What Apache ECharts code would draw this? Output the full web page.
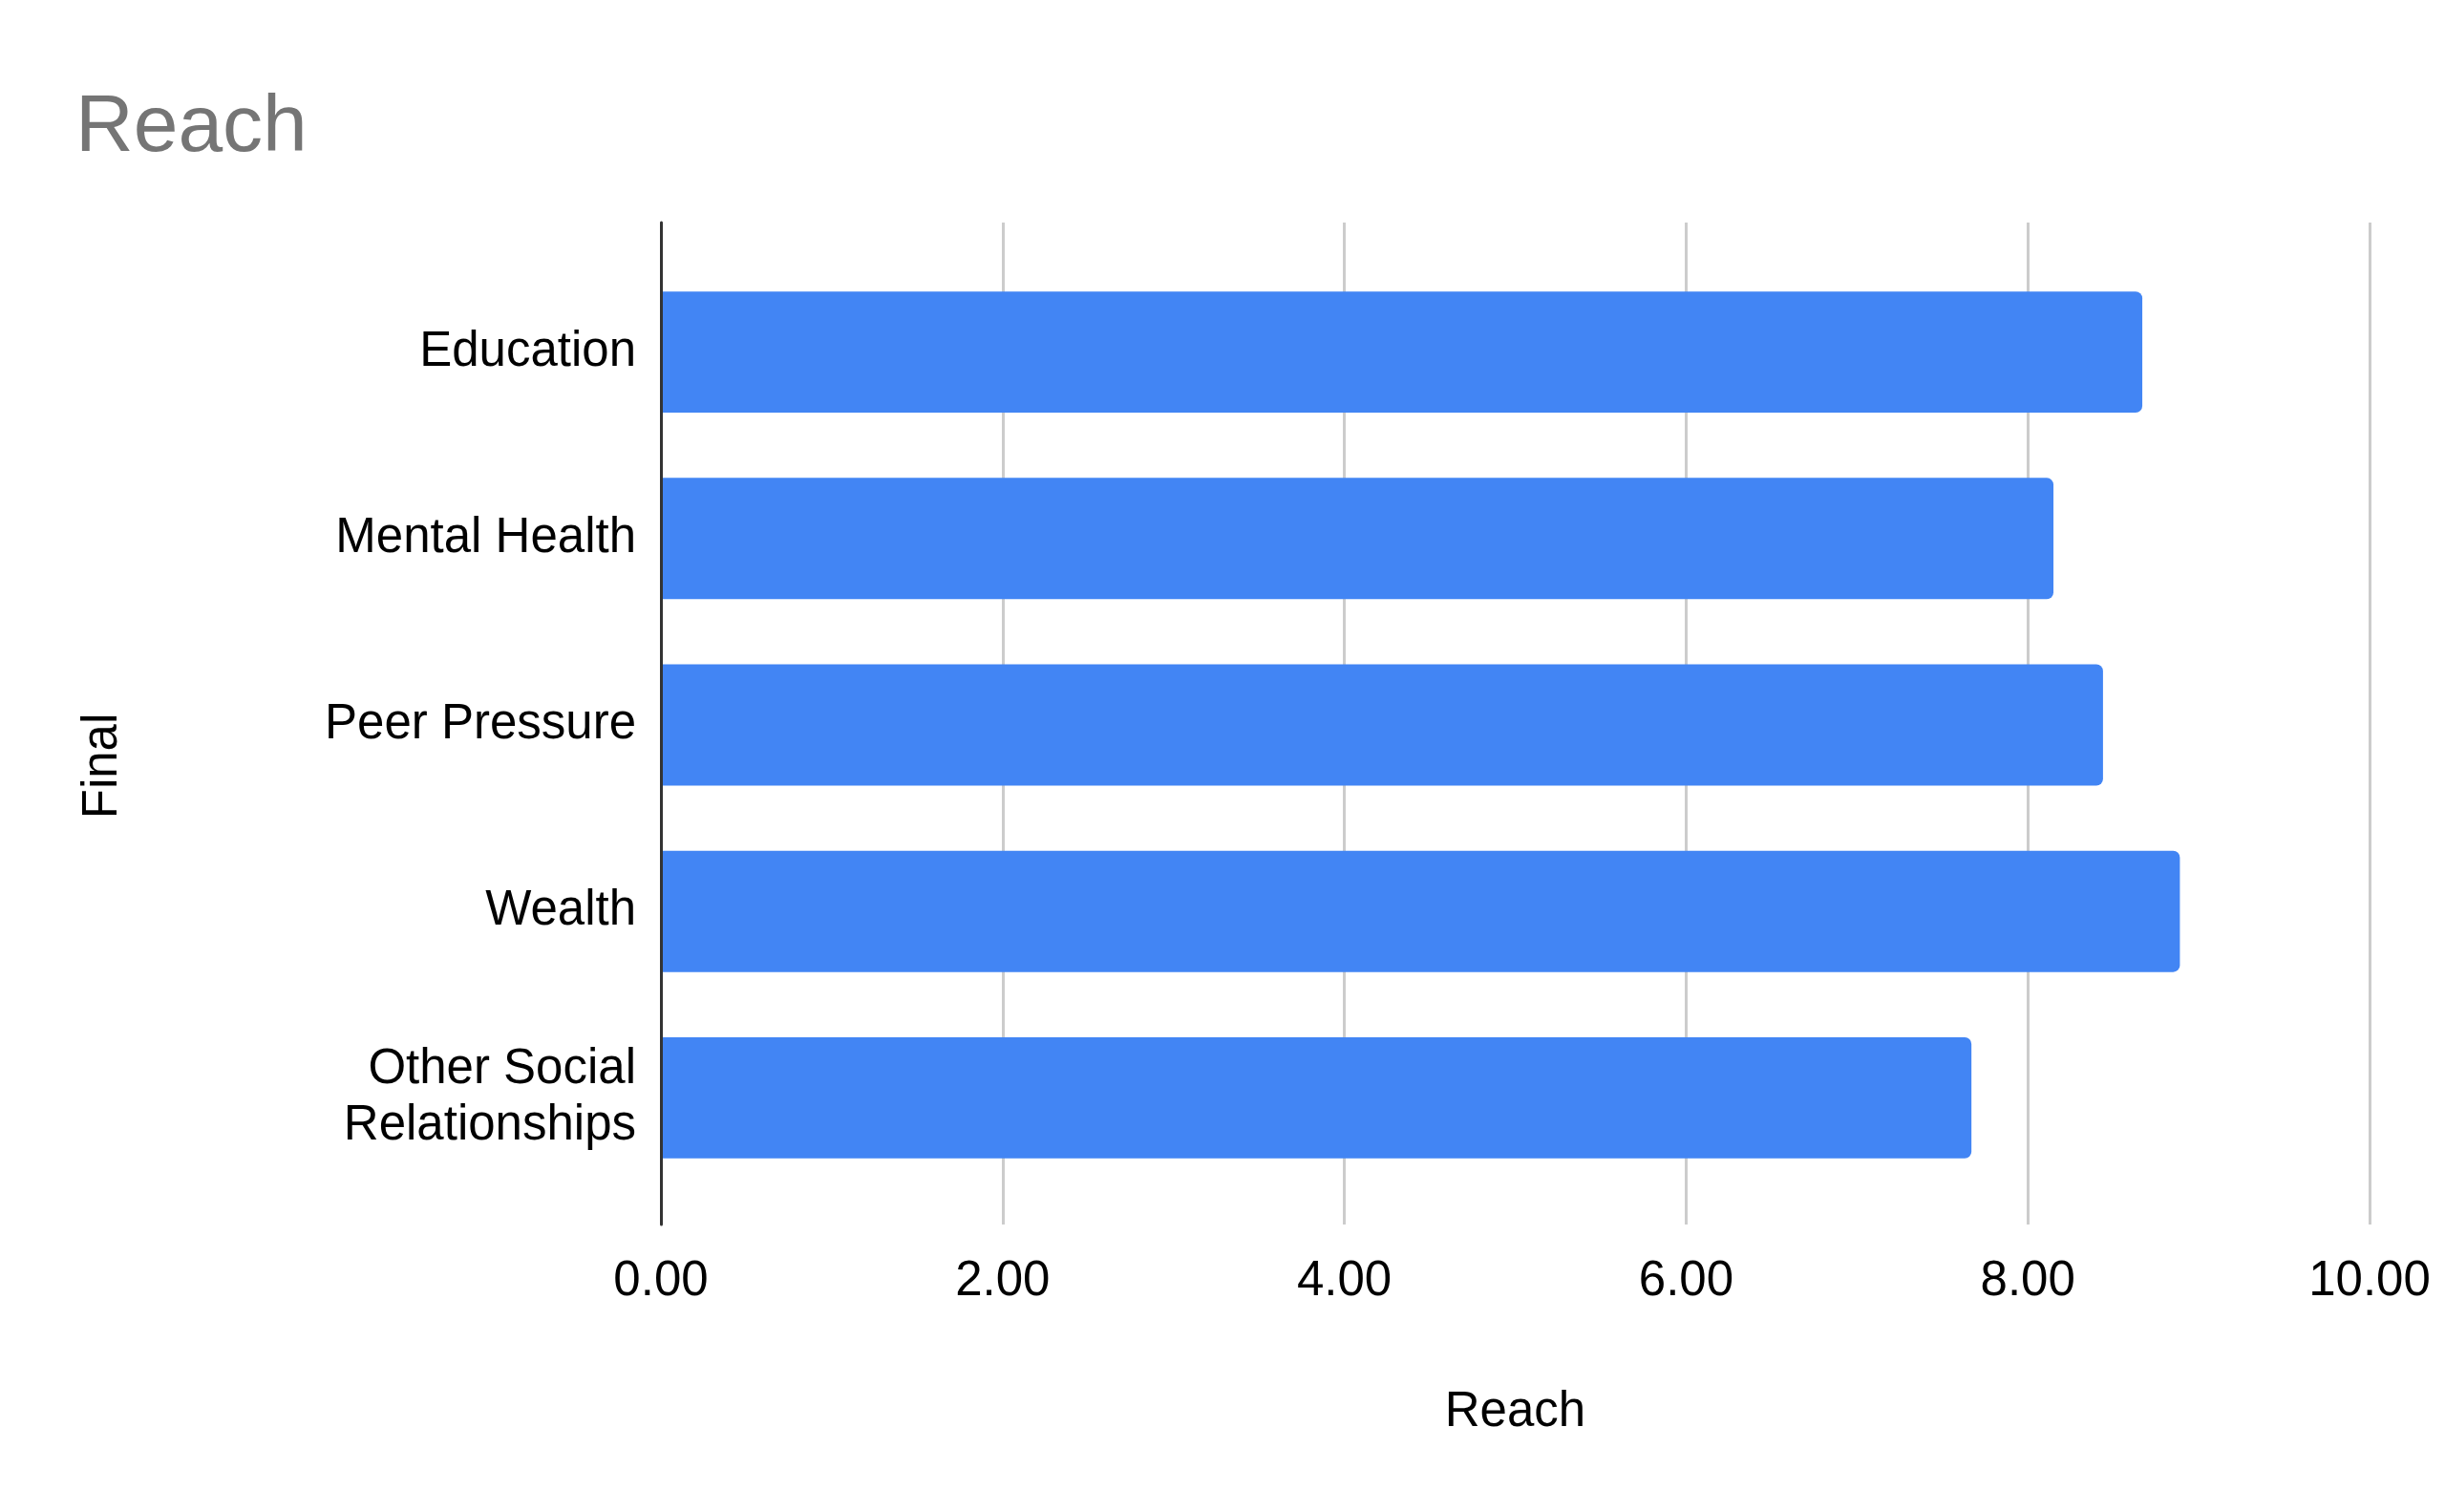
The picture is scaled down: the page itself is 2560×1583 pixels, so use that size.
<!DOCTYPE html>
<html>
<head>
<meta charset="utf-8">
<script src="https://cdn.jsdelivr.net/npm/echarts@6/dist/echarts.min.js"></script>
<style>
  html, body { margin: 0; padding: 0; background: #fff; }
  #chart-container { width: 2560px; height: 1583px; }
</style>
</head>
<body>
<div id="chart-container"></div>
<script>
// data
const categories = ['Education', 'Mental Health', 'Peer Pressure', 'Wealth', 'Other Social\nRelationships'];
const reachValues = [8.67, 8.15, 8.44, 8.89, 7.67];
const xMin = 0;
const xMax = 10;
const xStep = 2;

var dom = document.getElementById('chart-container');
var myChart = echarts.init(dom);
var option;

const font = 'Liberation Sans, Arial, sans-serif';

option = {
    backgroundColor: '#fff',
    animation: false,
    textStyle: { fontFamily: font },
    title: {
        text: 'Reach',
        left: 74,
        top: 88,
        textStyle: { fontFamily: font, fontSize: 84, fontWeight: 'normal', color: '#757575' }
    },
    graphic: [{
        type: 'text',
        x: 108,
        y: 802,
        rotation: Math.PI / 2,
        style: {
            text: 'Final',
            font: '51px ' + font,
            fill: '#000',
            align: 'center',
            verticalAlign: 'middle'
        }
    }],
    grid: [
        // grid for the frame: gridlines, axis line, tick labels
        { left: 692, right: 79, top: 233, bottom: 301 },
        // grid for the bars, a bit inset like the original
        { left: 692, right: 79, top: 271, bottom: 336 }
    ],
    xAxis: [{
            gridIndex: 0,
            type: 'value',
            min: xMin,
            max: xMax,
            interval: xStep,
            name: 'Reach',
            nameLocation: 'middle',
            nameGap: 171,
            nameTextStyle: { fontSize: 51, color: '#000', fontFamily: font },
            axisLine: { show: false },
            axisTick: { show: false },
            axisLabel: {
                fontSize: 51,
                color: '#000',
                margin: 34,
                formatter: function(v) { return v.toFixed(2); }
            },
            splitLine: { lineStyle: { color: '#cccccc', width: 3 } }
        },
        {
            gridIndex: 1,
            type: 'value',
            min: xMin,
            max: xMax,
            show: false
        }
    ],
    yAxis: [{
            gridIndex: 0,
            type: 'value',
            z: 3,
            axisLine: { show: true, onZero: false, lineStyle: { color: '#333', width: 3 } },
            axisTick: { show: false },
            axisLabel: { show: false },
            splitLine: { show: false }
        },
        {
            gridIndex: 1,
            type: 'category',
            inverse: true,
            data: categories,
            axisLine: { show: false },
            axisTick: { show: false },
            axisLabel: {
                fontSize: 51,
                color: '#000',
                margin: 26,
                lineHeight: 59,
                align: 'right',
                padding: [8, 0, 0, 0]
            }
        }
    ],
    series: [{
        type: 'bar',
        xAxisIndex: 1,
        yAxisIndex: 1,
        data: reachValues,
        barCategoryGap: '35%',
        itemStyle: { color: '#4285F4', borderRadius: [0, 7, 7, 0] },
        z: 2
    }]
};

myChart.setOption(option);
</script>
</body>
</html>
